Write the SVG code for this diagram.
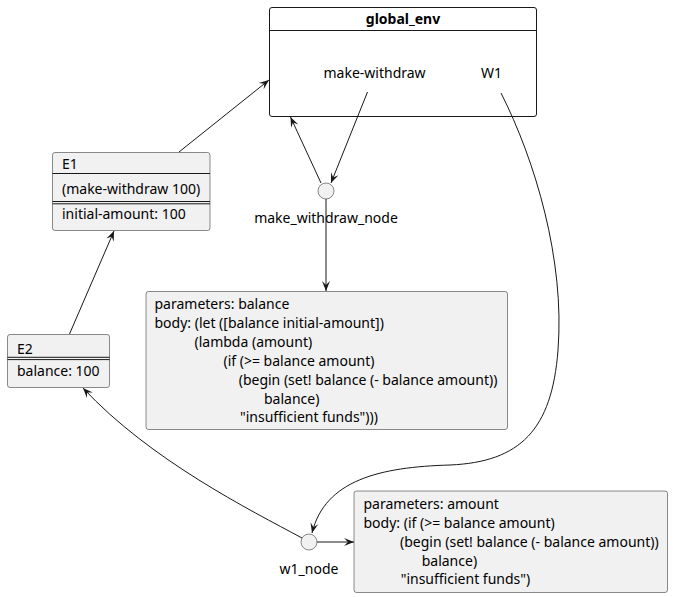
<svg xmlns="http://www.w3.org/2000/svg" width="673" height="597" viewBox="0 0 673 597">
<style>
text{font-family:"Noto Sans","DejaVu Sans",sans-serif;font-size:14px;fill:#000}
.b{font-weight:bold}
.box{fill:#F1F1F1;stroke:#181818;stroke-width:0.5}
.ln{stroke:#181818;stroke-width:1;fill:none}
.c{stroke:#181818;stroke-width:1;fill:none;marker-end:url(#ah)}
</style>
<defs>
<marker id="ah" markerUnits="userSpaceOnUse" markerWidth="12" markerHeight="10" refX="10" refY="5" orient="auto">
<path d="M0,1 L10,5 L0,9 L4,5 Z" fill="#181818"/>
</marker>
</defs>
<rect width="673" height="597" fill="#FFFFFF"/>
<g id="global_env">
<rect x="269.5" y="7.5" width="267" height="109" rx="2.5" fill="#FFFFFF" stroke="#181818" stroke-width="1"/>
<line x1="269.5" y1="30.5" x2="536.5" y2="30.5" class="ln"/>
<text x="403" y="24" text-anchor="middle" class="b">global_env</text>
<text x="323.5" y="78">make-withdraw</text>
<text x="481" y="78">W1</text>
</g>
<g id="E1">
<rect x="52.5" y="152.5" width="157.5" height="78" rx="2.5" class="box"/>
<line x1="52.5" y1="173.5" x2="210" y2="173.5" class="ln" stroke-width="0.8"/>
<line x1="52.5" y1="201.5" x2="210" y2="201.5" class="ln" stroke-width="0.8"/>
<line x1="52.5" y1="203.8" x2="210" y2="203.8" class="ln" stroke-width="0.8"/>
<text x="62" y="169">E1</text>
<text x="62" y="194">(make-withdraw 100)</text>
<text x="62" y="219">initial-amount: 100</text>
</g>
<g id="E2">
<rect x="7.5" y="334.5" width="102" height="53" rx="2.5" class="box"/>
<line x1="7.5" y1="357.3" x2="109.5" y2="357.3" class="ln" stroke-width="0.8"/>
<line x1="7.5" y1="359.6" x2="109.5" y2="359.6" class="ln" stroke-width="0.8"/>
<text x="17" y="353.5">E2</text>
<text x="17" y="376">balance: 100</text>
</g>
<g id="make_withdraw_node">
<circle cx="326" cy="191" r="8" class="box"/>
<text x="326" y="223" text-anchor="middle">make_withdraw_node</text>
</g>
<g id="proc1">
<rect x="146" y="291.5" width="361.5" height="138" rx="2.5" class="box"/>
<text x="154.5" y="309">parameters: balance</text>
<text x="154.5" y="327.5">body: (let ([balance initial-amount])</text>
<text x="194.5" y="346.5">(lambda (amount)</text>
<text x="223.5" y="365.5">(if (&gt;= balance amount)</text>
<text x="238.7" y="384.5">(begin (set! balance (- balance amount))</text>
<text x="264" y="403.5">balance)</text>
<text x="240" y="422">"insufficient funds")))</text>
</g>
<g id="w1_node">
<circle cx="309" cy="542" r="8" class="box"/>
<text x="309" y="573.5" text-anchor="middle">w1_node</text>
</g>
<g id="proc2">
<rect x="354" y="491" width="313.5" height="101.5" rx="2.5" class="box"/>
<text x="363.5" y="508.5">parameters: amount</text>
<text x="363.5" y="527.5">body: (if (&gt;= balance amount)</text>
<text x="400" y="546.5">(begin (set! balance (- balance amount))</text>
<text x="421.7" y="565.5">balance)</text>
<text x="400.7" y="584">"insufficient funds")</text>
</g>
<g id="connectors">
<path class="c" d="M179,152 L269,80"/>
<path class="c" d="M69.5,334 L114,231"/>
<path class="c" d="M321,183 L290.5,117"/>
<path class="c" d="M367.5,92 L331,183"/>
<path class="c" d="M326,199 L326,291"/>
<path class="c" d="M501,93 C535,160 565,260 558,350 C552,430 520,462 450,465 C380,467 325,480 312,533"/>
<path class="c" d="M302,538 C250,510 150,460 83,388"/>
<path class="c" d="M317,542 L354,542"/>
</g>
</svg>
